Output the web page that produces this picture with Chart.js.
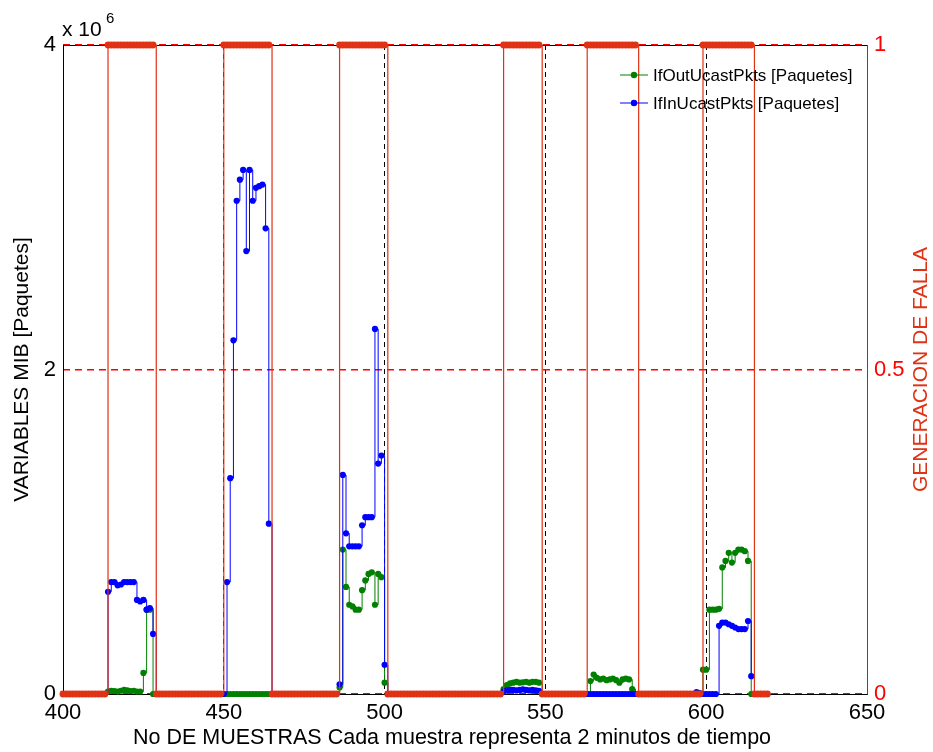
<!DOCTYPE html>
<html>
<head>
<meta charset="utf-8">
<script src="https://cdn.jsdelivr.net/npm/chart.js@4/dist/chart.umd.min.js"></script>
<style>
  body { margin: 0; background: #fff; }
  #wrap { width: 933px; height: 752px; position: relative; }
</style>
</head>
<body>
<div id="wrap"><canvas id="grafico"></canvas></div>
<script>
// muestra inicial (cada muestra = 2 minutos)
var inicio = 400;

// generacion de falla (0 / 1), muestras 400..619
var falla = [
  0,0,0,0,0,0,0,0,0,0,
  0,0,0,0,1,1,1,1,1,1,
  1,1,1,1,1,1,1,1,1,0,
  0,0,0,0,0,0,0,0,0,0,
  0,0,0,0,0,0,0,0,0,0,
  1,1,1,1,1,1,1,1,1,1,
  1,1,1,1,1,0,0,0,0,0,
  0,0,0,0,0,0,0,0,0,0,
  0,0,0,0,0,0,1,1,1,1,
  1,1,1,1,1,1,1,1,1,1,
  1,0,0,0,0,0,0,0,0,0,
  0,0,0,0,0,0,0,0,0,0,
  0,0,0,0,0,0,0,0,0,0,
  0,0,0,0,0,0,0,1,1,1,
  1,1,1,1,1,1,1,1,1,0,
  0,0,0,0,0,0,0,0,0,0,
  0,0,0,1,1,1,1,1,1,1,
  1,1,1,1,1,1,1,1,1,0,
  0,0,0,0,0,0,0,0,0,0,
  0,0,0,0,0,0,0,0,0,1,
  1,1,1,1,1,1,1,1,1,1,
  1,1,1,1,1,0,0,0,0,0
];

// IfInUcastPkts [Paquetes]
var ifIn = [
  0,0,0,0,0,0,0,0,0,0,
  0,0,0,0,630000,690000,690000,670000,675000,690000,
  690000,690000,690000,580000,570000,580000,520000,530000,370000,0,
  0,0,0,0,0,0,0,0,0,0,
  0,0,0,0,0,0,0,0,0,0,
  0,690000,1330000,2180000,3040000,3170000,3230000,2730000,3230000,3040000,
  3120000,3130000,3140000,2870000,1050000,0,0,0,0,0,
  0,0,0,0,0,0,0,0,0,0,
  0,0,0,0,0,0,60000,1350000,990000,910000,
  910000,910000,910000,1040000,1090000,1090000,1090000,2250000,1420000,1470000,
  180000,0,0,0,0,0,0,0,0,0,
  0,0,0,0,0,0,0,0,0,0,
  0,0,0,0,0,0,0,0,0,0,
  0,0,0,0,0,0,0,15000,22000,25000,
  25000,22000,25000,28000,25000,22000,25000,22000,20000,0,
  0,0,0,0,0,0,0,0,0,0,
  0,0,0,0,0,0,0,0,0,0,
  0,0,0,0,0,0,0,0,0,0,
  0,0,0,0,0,0,0,0,0,0,
  0,0,0,0,0,0,0,12000,6000,0,
  0,0,0,0,420000,440000,440000,430000,420000,410000,
  400000,400000,400000,450000,110000,0,0,0,0,0
];

// IfOutUcastPkts [Paquetes]
var ifOut = [
  0,0,0,0,0,0,0,0,0,0,
  0,0,0,0,15000,20000,18000,15000,20000,25000,
  22000,18000,20000,15000,15000,130000,520000,520000,0,0,
  0,0,0,0,0,0,0,0,0,0,
  0,0,0,0,0,0,0,0,0,0,
  0,0,0,0,0,0,0,0,0,0,
  0,0,0,0,0,0,0,0,0,0,
  0,0,0,0,0,0,0,0,0,0,
  0,0,0,0,0,0,40000,890000,660000,550000,
  540000,520000,520000,640000,700000,740000,750000,550000,740000,720000,
  70000,0,0,0,0,0,0,0,0,0,
  0,0,0,0,0,0,0,0,0,0,
  0,0,0,0,0,0,0,0,0,0,
  0,0,0,0,0,0,0,30000,55000,65000,
  70000,75000,70000,72000,75000,70000,75000,75000,70000,0,
  0,0,0,0,0,0,0,0,0,0,
  0,0,0,0,80000,120000,100000,90000,95000,85000,
  90000,95000,85000,70000,90000,95000,90000,30000,0,0,
  0,0,0,0,0,0,0,0,0,0,
  0,0,0,0,0,0,0,0,0,150000,
  150000,520000,520000,520000,525000,780000,820000,870000,810000,870000,
  890000,890000,880000,820000,0,0,0,0,0,0
];

var muestras = falla.map(function (v, i) { return inicio + i; });

var ROJO = 'rgb(224,50,20)';
var ROJO_EJE = '#ff0000';
var FUENTE = '"Liberation Sans", Arial, sans-serif';

// leyenda dentro del area de trazado, sin recuadro
var leyenda = {
  id: 'leyenda',
  afterDatasetsDraw: function (chart) {
    var ctx = chart.ctx;
    var items = [
      { texto: 'IfOutUcastPkts [Paquetes]', color: '#008000', y: 75 },
      { texto: 'IfInUcastPkts [Paquetes]', color: '#0000ff', y: 103 }
    ];
    ctx.save();
    ctx.font = '17px ' + FUENTE;
    ctx.textBaseline = 'middle';
    items.forEach(function (it) {
      ctx.strokeStyle = it.color;
      ctx.lineWidth = 1;
      ctx.beginPath();
      ctx.moveTo(620, it.y);
      ctx.lineTo(648, it.y);
      ctx.stroke();
      ctx.fillStyle = it.color;
      ctx.beginPath();
      ctx.arc(634, it.y, 3.2, 0, Math.PI * 2);
      ctx.fill();
      ctx.fillStyle = '#000';
      ctx.fillText(it.texto, 653, it.y + 1);
    });
    ctx.restore();
  }
};

// marco superior, titulos y factor x 10^6
var marco = {
  id: 'marco',
  beforeDraw: function (chart) {
    var a = chart.chartArea, ctx = chart.ctx;
    ctx.save();
    ctx.strokeStyle = '#000';
    ctx.lineWidth = 1;
    ctx.beginPath();
    ctx.moveTo(a.left, a.top + 0.5);
    ctx.lineTo(a.right, a.top + 0.5);
    ctx.stroke();
    ctx.restore();
  },
  afterDraw: function (chart) {
    var a = chart.chartArea, ctx = chart.ctx;
    ctx.save();
    ctx.fillStyle = '#000';
    ctx.font = '21px ' + FUENTE;
    ctx.textBaseline = 'alphabetic';
    ctx.fillText('x 10', 62, 36);
    ctx.font = '15px ' + FUENTE;
    ctx.fillText('6', 106, 23);

    // titulo del eje x
    ctx.font = '21.5px ' + FUENTE;
    ctx.textAlign = 'center';
    ctx.textBaseline = 'middle';
    ctx.fillText('No DE MUESTRAS Cada muestra representa 2 minutos de tiempo', 452, 738);

    // titulo del eje derecho
    ctx.translate(921, (a.top + a.bottom) / 2);
    ctx.rotate(-Math.PI / 2);
    ctx.fillStyle = ROJO;
    ctx.font = '21px ' + FUENTE;
    ctx.fillText('GENERACION DE FALLA', 0, 0);
    ctx.restore();
  }
};

new Chart('grafico', {
  type: 'line',
  data: {
    labels: muestras,
    datasets: [
      {
        label: 'Falla',
        data: falla,
        yAxisID: 'y1',
        borderColor: ROJO,
        backgroundColor: ROJO,
        pointBackgroundColor: ROJO,
        pointBorderWidth: 0,
        pointRadius: 3.4,
        borderWidth: 1.2,
        stepped: true,
        fill: false,
        clip: 8
      },
      {
        label: 'IfInUcastPkts [Paquetes]',
        data: ifIn,
        yAxisID: 'y',
        borderColor: '#0000ff',
        backgroundColor: '#0000ff',
        pointBackgroundColor: '#0000ff',
        pointBorderWidth: 0,
        pointRadius: 3.1,
        borderWidth: 1,
        stepped: true,
        fill: false,
        clip: 8
      },
      {
        label: 'IfOutUcastPkts [Paquetes]',
        data: ifOut,
        yAxisID: 'y',
        borderColor: '#008000',
        backgroundColor: '#008000',
        pointBackgroundColor: '#008000',
        pointBorderWidth: 0,
        pointRadius: 3.1,
        borderWidth: 1,
        stepped: true,
        fill: false,
        clip: 8
      }
    ]
  },
  options: {
    responsive: true,
    maintainAspectRatio: false,
    animation: false,
    layout: { padding: { top: 45, left: 0, right: 0, bottom: 0 } },
    plugins: {
      legend: { display: false },
      tooltip: { enabled: false }
    },
    scales: {
      x: {
        type: 'linear',
        min: 400,
        max: 650,
        afterFit: function (s) { s.height = 58; },
        ticks: {
          stepSize: 50,
          maxRotation: 0,
          color: '#000',
          padding: 6,
          font: { size: 22, family: FUENTE }
        },
        grid: {
          drawTicks: false,
          lineWidth: 1,
          color: function (c) {
            var v = c.tick && c.tick.value;
            return (v === 400 || v === 650) ? 'rgba(0,0,0,0)' : '#000';
          }
        },
        border: { display: true, color: '#000', width: 1, dash: [5, 4] }
      },
      y: {
        position: 'left',
        min: 0,
        max: 4000000,
        afterFit: function (s) { s.width = 63; },
        ticks: {
          stepSize: 2000000,
          color: '#000',
          padding: 7,
          font: { size: 22, family: FUENTE },
          callback: function (v) { return v / 1000000; }
        },
        grid: { display: false, drawOnChartArea: false, drawTicks: false },
        border: { display: true, color: '#000', width: 1 },
        title: {
          display: true,
          text: 'VARIABLES MIB [Paquetes]',
          color: '#000',
          padding: { top: 10, bottom: 0 },
          font: { size: 21, family: FUENTE }
        }
      },
      y1: {
        position: 'right',
        min: 0,
        max: 1,
        afterFit: function (s) { s.width = 66; },
        ticks: {
          stepSize: 0.5,
          color: ROJO_EJE,
          padding: 7,
          font: { size: 22, family: FUENTE },
          callback: function (v) { return String(v); }
        },
        grid: {
          drawTicks: false,
          lineWidth: 1.6,
          color: ROJO_EJE
        },
        border: { display: true, color: ROJO_EJE, width: 1, dash: [7, 5] }
      }
    }
  },
  plugins: [marco, leyenda]
});
</script>
</body>
</html>
